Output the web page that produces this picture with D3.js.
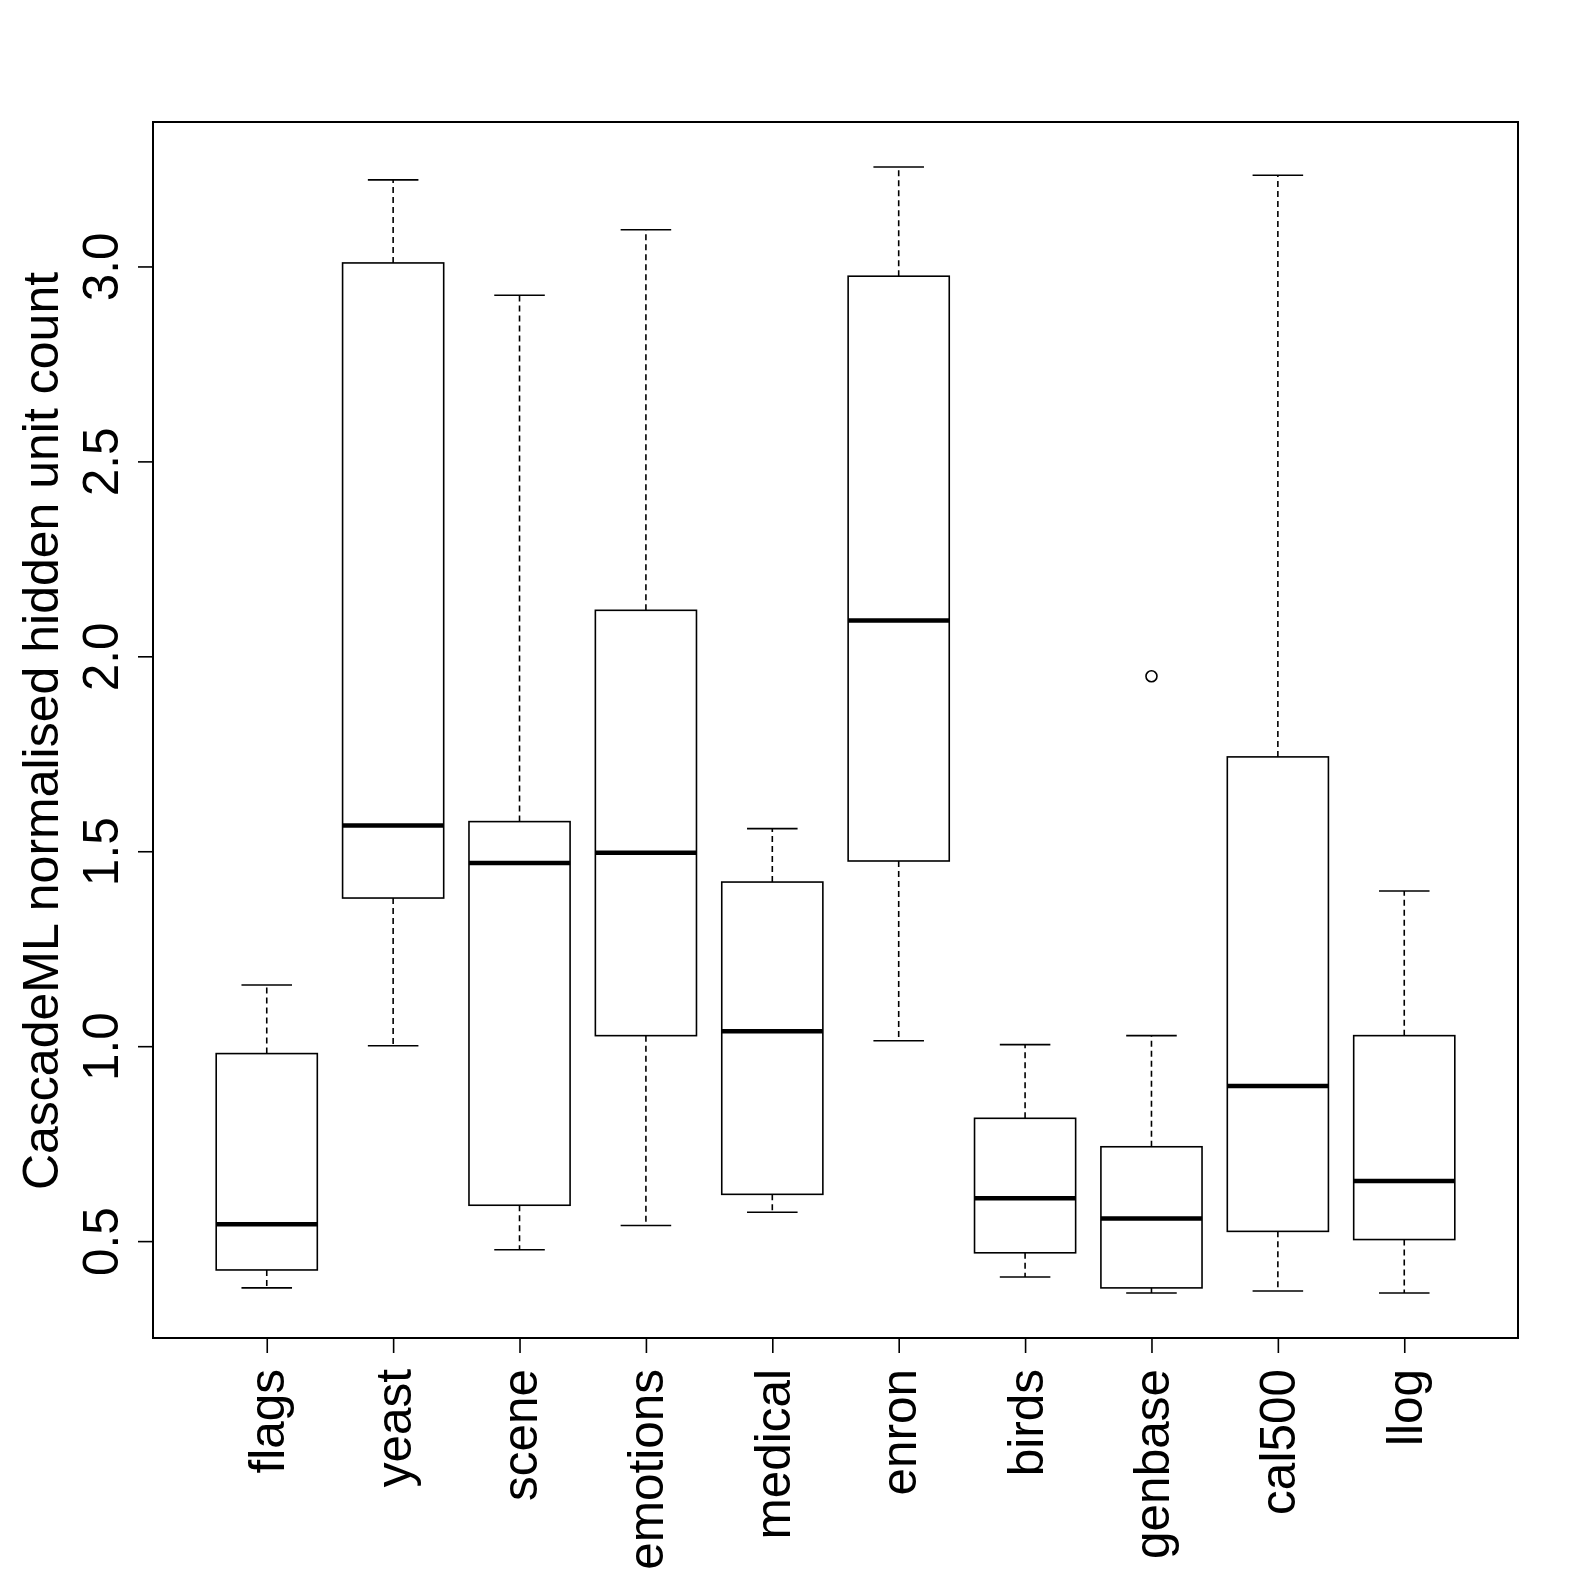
<!DOCTYPE html>
<html>
<head>
<meta charset="utf-8">
<script src="https://cdn.jsdelivr.net/npm/d3@7"></script>
<style>
  body { margin: 0; background: #fff; }
  text { font-family: "Liberation Sans", Arial, Helvetica, sans-serif; fill: #000; }
</style>
</head>
<body>
<svg width="1582" height="1582"></svg>
<script>
// Data: five-number summaries
const datasets = ["flags", "yeast", "scene", "emotions", "medical", "enron", "birds", "genbase", "cal500", "llog"];
const lowWhisker = [0.380, 1.001, 0.478, 0.540, 0.574, 1.014, 0.408, 0.367, 0.372, 0.367];
const q1         = [0.426, 1.380, 0.592, 1.027, 0.620, 1.475, 0.470, 0.380, 0.525, 0.504];
const median     = [0.543, 1.566, 1.470, 1.496, 1.038, 2.092, 0.610, 0.558, 0.898, 0.654];
const q3         = [0.981, 3.009, 1.576, 2.118, 1.421, 2.975, 0.815, 0.742, 1.742, 1.027];
const highWhisker= [1.157, 3.222, 2.926, 3.094, 1.558, 3.255, 1.004, 1.027, 3.234, 1.398];
const outliers = [{ set: "genbase", value: 1.949 }];
const yTicks = [0.5, 1.0, 1.5, 2.0, 2.5, 3.0];
const yLabel = "CascadeML normalised hidden unit count";

const svg = d3.select("svg");
const plot = { left: 153, right: 1518, top: 122, bottom: 1338 };
const fontSize = 49.5;

// R-style 4% axis extension
const n = datasets.length;
const x = d3.scaleLinear()
  .domain([0.5 - 0.04 * n, n + 0.5 + 0.04 * n])
  .range([plot.left, plot.right]);
const yMin = d3.min(lowWhisker), yMax = d3.max(highWhisker);
const ext = (yMax - yMin) * 0.04;
const y = d3.scaleLinear()
  .domain([yMin - ext, yMax + ext])
  .range([plot.bottom, plot.top]);

const boxW = (x(2) - x(1)) * 0.8;
const capW = boxW / 2;

const boxes = datasets.map((d, i) => ({
  name: d, pos: i + 1,
  lo: lowWhisker[i], q1: q1[i], med: median[i], q3: q3[i], hi: highWhisker[i]
}));

const g = svg.append("g");
const b = g.selectAll("g.box").data(boxes).join("g").attr("class", "box");

// whiskers (dashed)
b.append("line")
  .attr("x1", d => x(d.pos)).attr("x2", d => x(d.pos))
  .attr("y1", d => y(d.q3)).attr("y2", d => y(d.hi))
  .attr("stroke", "#000").attr("stroke-width", 1.6).attr("stroke-dasharray", "6,4");
b.append("line")
  .attr("x1", d => x(d.pos)).attr("x2", d => x(d.pos))
  .attr("y1", d => y(d.q1)).attr("y2", d => y(d.lo))
  .attr("stroke", "#000").attr("stroke-width", 1.6).attr("stroke-dasharray", "6,4");
// caps
["hi", "lo"].forEach(k => {
  b.append("line")
    .attr("x1", d => x(d.pos) - capW / 2).attr("x2", d => x(d.pos) + capW / 2)
    .attr("y1", d => y(d[k])).attr("y2", d => y(d[k]))
    .attr("stroke", "#000").attr("stroke-width", 1.6);
});
// box
b.append("rect")
  .attr("x", d => x(d.pos) - boxW / 2).attr("width", boxW)
  .attr("y", d => y(d.q3)).attr("height", d => y(d.q1) - y(d.q3))
  .attr("fill", "none").attr("stroke", "#000").attr("stroke-width", 1.6);
// median
b.append("line")
  .attr("x1", d => x(d.pos) - boxW / 2).attr("x2", d => x(d.pos) + boxW / 2)
  .attr("y1", d => y(d.med)).attr("y2", d => y(d.med))
  .attr("stroke", "#000").attr("stroke-width", 4.5);

// outliers
g.selectAll("circle").data(outliers).join("circle")
  .attr("cx", d => x(datasets.indexOf(d.set) + 1))
  .attr("cy", d => y(d.value))
  .attr("r", 5.5).attr("fill", "none").attr("stroke", "#000").attr("stroke-width", 1.6);

// frame
svg.append("rect")
  .attr("x", plot.left).attr("y", plot.top)
  .attr("width", plot.right - plot.left).attr("height", plot.bottom - plot.top)
  .attr("fill", "none").attr("stroke", "#000").attr("stroke-width", 2);

// y axis
const yAxis = svg.append("g")
  .attr("transform", `translate(${plot.left},0)`)
  .call(d3.axisLeft(y).tickValues(yTicks).tickSize(15).tickFormat(d3.format(".1f")));
yAxis.select(".domain").remove();
yAxis.selectAll(".tick line").attr("stroke-width", 1.6);
yAxis.selectAll(".tick text")
  .attr("x", null).attr("dy", null)
  .attr("text-anchor", "middle")
  .attr("transform", "translate(-35,0) rotate(-90)")
  .style("font-size", fontSize + "px")
  .style("font-family", "'Liberation Sans', Arial, sans-serif");

// x axis
const xAxis = svg.append("g")
  .attr("transform", `translate(0,${plot.bottom})`)
  .call(d3.axisBottom(x).tickValues(d3.range(1, n + 1)).tickSize(15).tickFormat(i => datasets[i - 1]));
xAxis.select(".domain").remove();
xAxis.selectAll(".tick line").attr("stroke-width", 1.6);
xAxis.selectAll(".tick text")
  .attr("y", null).attr("dy", null)
  .attr("text-anchor", "end")
  .attr("transform", "translate(17,31) rotate(-90)")
  .style("font-size", fontSize + "px")
  .style("font-family", "'Liberation Sans', Arial, sans-serif");

// y label
svg.append("text")
  .attr("transform", `translate(58,${(plot.top + plot.bottom) / 2 + 1}) rotate(-90)`)
  .attr("text-anchor", "middle")
  .style("font-size", "50px")
  .text(yLabel);
</script>
</body>
</html>
